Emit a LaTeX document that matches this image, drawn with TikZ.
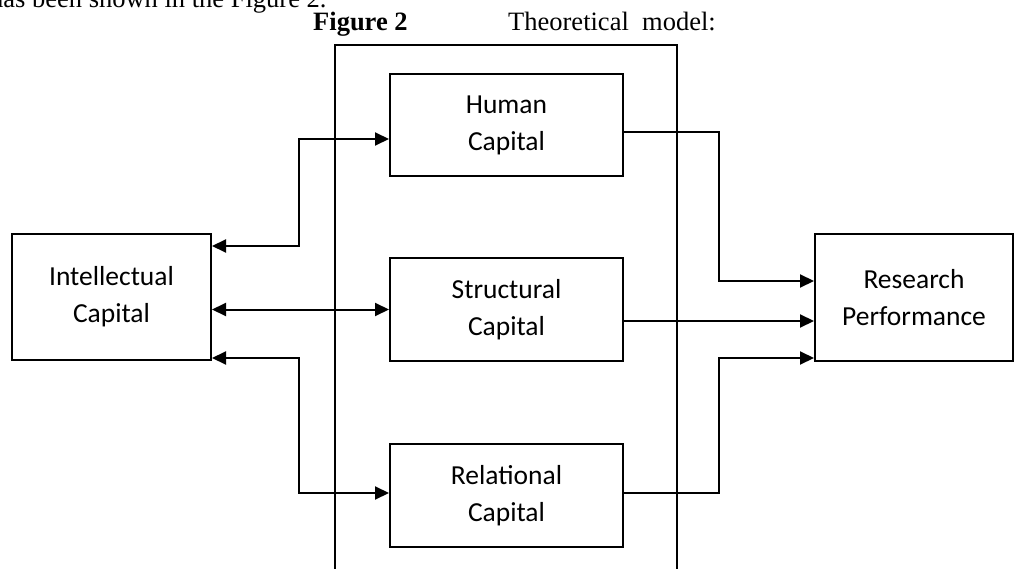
\documentclass[tikz,border=0pt]{standalone}
\usepackage{fontspec}
\setmainfont{Liberation Serif}
\newfontfamily\boxfont{Carlito}
\usetikzlibrary{arrows.meta}
\begin{document}
\begin{tikzpicture}[x=1pt,y=-1pt,
  capbox/.style={draw, line width=2pt, align=center, inner sep=0pt,
    font={\boxfont\fontsize{27.5}{37}\selectfont}},
  conn/.style={line width=2pt, -{Triangle[length=14pt,width=13pt]}},
  dconn/.style={line width=2pt, {Triangle[length=14pt,width=13pt]}-{Triangle[length=14pt,width=13pt]}},
  serif/.style={inner sep=0pt, anchor=base west, font={\fontsize{26.5}{30}\selectfont}}]
\useasboundingbox (0,0) rectangle (1017,569);
\clip (0,0) rectangle (1017,569);
\fill[white] (0,0) rectangle (1017,569);

% text above
\node[serif] (prev) at (-10,8) {has been shown in the Figure 2.};
\node[serif, font={\fontsize{26.5}{30}\selectfont\bfseries}] (fig) at (313,31) {Figure 2};
\node[serif] (ttl) at (508,31) {Theoretical\ \ model:};

% frame
\draw[line width=2pt] (335,600) -- (335,45) -- (677,45) -- (677,600);

% boxes
\node[capbox, minimum width=199pt, minimum height=126pt] (ic) at (111.5,297) {Intellectual\\Capital};
\node[capbox, minimum width=233pt, minimum height=102pt] (hc) at (506.5,125) {Human\\Capital};
\node[capbox, minimum width=233pt, minimum height=103pt] (sc) at (506.5,309.5) {Structural\\Capital};
\node[capbox, minimum width=233pt, minimum height=103pt] (rc) at (506.5,495.5) {Relational\\Capital};
\node[capbox, minimum width=198pt, minimum height=127pt] (rp) at (914,297.5) {Research\\Performance};

% left connectors
\draw[dconn] (ic.east |- 0,246) -| (299,139) -- (hc.west |- 0,139);
\draw[dconn] (ic.east |- sc.west) -- (sc.west);
\draw[dconn] (ic.east |- 0,358) -| (299,493) -- (rc.west |- 0,493);

% right connectors
\draw[conn] (hc.east |- 0,132) -| (719,281) -- (rp.west |- 0,281);
\draw[conn] (sc.east |- 0,321) -- (rp.west |- 0,321);
\draw[conn] (rc.east |- 0,493) -| (719,358) -- (rp.west |- 0,358);
\end{tikzpicture}
\end{document}
